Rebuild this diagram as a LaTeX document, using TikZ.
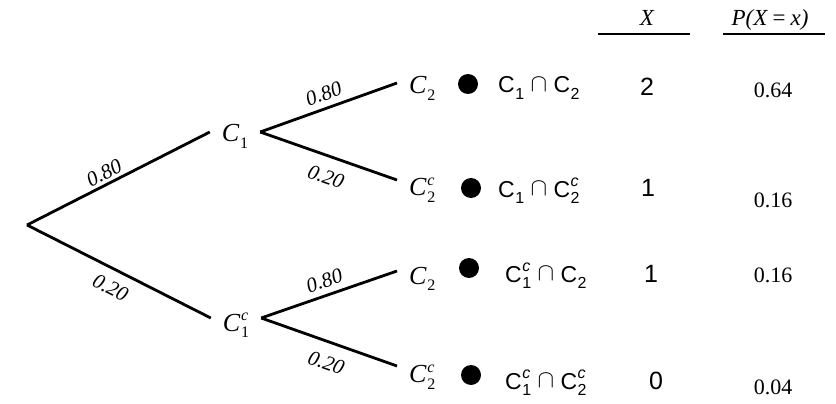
\documentclass[tikz,border=0pt]{standalone}
\usepackage{fontspec}
\setmainfont{Liberation Serif}
\setsansfont{Liberation Sans}
\newcommand{\scsz}{\fontsize{16}{16}\selectfont}
\newcommand{\Cv}[2]{\textit{C}\kern.5pt\rlap{\raisebox{.85ex}{\scsz\textit{#2}}}\raisebox{-.55ex}{\scsz #1}}
\newcommand{\Cw}[2]{\textsf{C}\kern.5pt\rlap{\raisebox{.85ex}{\scsz\textit{#2}}}\raisebox{-.55ex}{\scsz #1}}
\newcommand{\capx}{\;\raisebox{.1ex}{$\cap$}\;}
\begin{document}
\begin{tikzpicture}[x=1pt,y=-1pt,
  branch/.style={line width=2.8pt},
  prob/.style={font=\fontsize{21}{21}\selectfont\itshape, inner xsep=3pt, inner ysep=#1, sloped},
  mid/.style={font=\fontsize{26}{26}\selectfont, inner xsep=0pt, inner ysep=0pt, minimum width=50pt, text height=#1, text depth=0pt},
  ev/.style={font=\fontsize{26}{26}\selectfont, inner xsep=12pt, inner ysep=0pt, anchor=west, text height=#1, text depth=0pt},
  inter/.style={font=\fontsize{23}{23}\selectfont\sffamily, inner sep=1pt, anchor=west},
  xval/.style={font=\fontsize{25}{25}\selectfont\sffamily, inner sep=1pt},
  pval/.style={font=\fontsize{22}{22}\selectfont, inner sep=1pt},
  head/.style={font=\fontsize{23}{23}\selectfont\itshape, inner sep=1pt},
  rule/.style={line width=2.2pt},
  blob/.style={circle, fill=black, minimum size=20pt, inner sep=0pt}]
\useasboundingbox (0,0) rectangle (836,404);

% root
\coordinate (r) at (27,225);
\node[mid=20pt] (c1) at (235,132) {\Cv{1}{}};
\node[mid=26pt] (c1c) at (236,318) {\Cv{1}{c}};
\draw[branch] (r) -- node[prob=3pt, above, pos=0.45] {0.80} (c1.west);
\draw[branch] (r) -- node[prob=10pt, below, pos=0.5] {0.20} (c1c.west);

% second level
\node[ev=21pt] (a) at (397,83) {\Cv{2}{}};
\node[ev=31pt] (b) at (397,180) {\Cv{2}{c}};
\node[ev=26pt] (c) at (397,271) {\Cv{2}{}};
\node[ev=33pt] (d) at (397,366) {\Cv{2}{c}};
\draw[branch] (c1.east) -- node[prob=6pt, above] {0.80} (a.west);
\draw[branch] (c1.east) -- node[prob=12pt, below, pos=0.53] {0.20} (b.west);
\draw[branch] (c1c.east) -- node[prob=6pt, above] {0.80} (c.west);
\draw[branch] (c1c.east) -- node[prob=12pt, below, pos=0.53] {0.20} (d.west);

% dots
\node[blob] (da) at (468,84) {};
\node[blob] (db) at (471,188) {};
\node[blob] (dc) at (469,268) {};
\node[blob] (dd) at (471,375) {};

% intersections
\node[inter] (ia) at (497,88) {\Cw{1}{}\capx\Cw{2}{}};
\node[inter] (ib) at (497,191) {\Cw{1}{}\capx\Cw{2}{c}};
\node[inter] (ic) at (504,276) {\Cw{1}{c}\capx\Cw{2}{}};
\node[inter] (id) at (504,383) {\Cw{1}{c}\capx\Cw{2}{c}};

% header
\node[head] (hx) at (647,18) {X};
\node[head] (hp) at (770,20) {P(X\,=\,x)};
\draw[rule] (598,34) -- (690,34);
\draw[rule] (723,34) -- (825,34);

% values
\node[xval] (x1) at (647,87) {2};
\node[xval] (x2) at (648,188) {1};
\node[xval] (x3) at (651,274) {1};
\node[xval] (x4) at (656,381) {0};
\node[pval] (p1) at (773,90) {0.64};
\node[pval] (p2) at (773,200) {0.16};
\node[pval] (p3) at (773,275) {0.16};
\node[pval] (p4) at (773,387) {0.04};
\end{tikzpicture}
\end{document}
